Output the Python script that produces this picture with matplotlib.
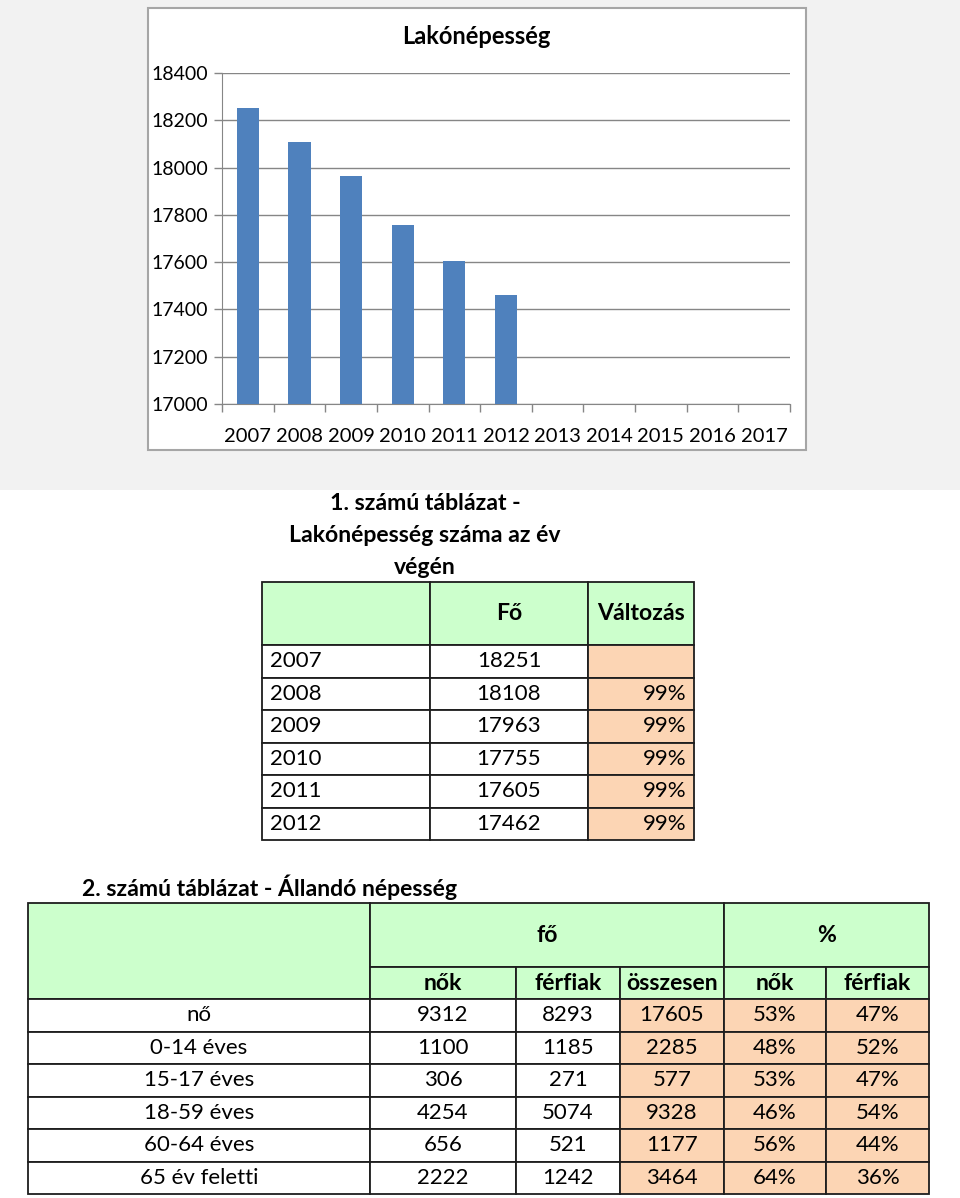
import matplotlib.pyplot as plt
from matplotlib.patches import Rectangle
import numpy as np

plt.rcParams['font.family'] = ['Lato', 'DejaVu Sans']

# Adatok
years = ['2007', '2008', '2009', '2010', '2011', '2012',
         '2013', '2014', '2015', '2016', '2017']
population = [18251, 18108, 17963, 17755, 17605, 17462]

t1_years = ['2007', '2008', '2009', '2010', '2011', '2012']
t1_fo = [18251, 18108, 17963, 17755, 17605, 17462]
t1_change = ['', '99%', '99%', '99%', '99%', '99%']

t2_labels = ['nő', '0-14 éves', '15-17 éves', '18-59 éves', '60-64 éves', '65 év feletti']
t2_nok = [9312, 1100, 306, 4254, 656, 2222]
t2_ferfiak = [8293, 1185, 271, 5074, 521, 1242]
t2_osszesen = [17605, 2285, 577, 9328, 1177, 3464]
t2_nok_pct = [53, 48, 53, 46, 56, 64]
t2_ferfiak_pct = [47, 52, 47, 54, 44, 36]
t2_sub = ['nők', 'férfiak', 'összesen', 'nők', 'férfiak']

W, H = 960, 1198
GREEN = '#ccffcc'
ORANGE = '#fcd5b4'
EDGE = '#1e1e1e'
FS = 16       # normal
FB = 16.6     # bold

fig = plt.figure(figsize=(W / 100, H / 100), dpi=100)

# Hintergrund-Achse in Pixelkoordinaten
bg = fig.add_axes([0, 0, 1, 1])
bg.set_xlim(0, W)
bg.set_ylim(H, 0)
bg.axis('off')
bg.add_patch(Rectangle((0, 0), W, 490, fc='#f2f2f2', ec='none'))
bg.add_patch(Rectangle((148, 8), 658, 442, fc='white', ec='#a6a6a6', lw=1.5))
bg.text(476, 37, 'Lakónépesség', ha='center', va='center', fontsize=17, fontweight='bold')

# Diagramm
ax = fig.add_axes([222 / W, 1 - 404 / H, (790 - 222) / W, (404 - 73) / H])
ax.set_facecolor('white')
ax.bar(range(len(population)), population, width=0.43, color='#4f81bd', zorder=3)
ax.set_xlim(-0.5, len(years) - 0.5)
ax.set_ylim(17000, 18400)
ax.set_yticks(range(17000, 18401, 200))
ax.set_xticks(range(len(years)))
ax.set_xticklabels(years)
ax.set_xticks(np.arange(-0.5, len(years), 1), minor=True)
ax.tick_params(axis='x', which='major', length=0, pad=17, labelsize=14.5)
ax.tick_params(axis='x', which='minor', length=6, color='#868686', width=1)
ax.tick_params(axis='y', length=6, color='#868686', width=1, pad=4, labelsize=14)
ax.yaxis.grid(True, color='#868686', lw=1)
ax.set_axisbelow(True)
for s in ['top', 'right']:
    ax.spines[s].set_visible(False)
for s in ['left', 'bottom']:
    ax.spines[s].set_color('#868686')


def cell(x0, x1, y0, y1, fill='white'):
    bg.add_patch(Rectangle((x0, y0), x1 - x0, y1 - y0, fc=fill, ec=EDGE, lw=1.3))


# 1. táblázat
for i, line in enumerate(['1. számú táblázat -', 'Lakónépesség száma az év', 'végén']):
    bg.text(425, 503 + i * 32, line, ha='center', va='center', fontsize=FB, fontweight='bold')

c1 = [262, 430, 588, 694]
h_top, h_bot, rh = 582, 645, 32.5
for j in range(3):
    cell(c1[j], c1[j + 1], h_top, h_bot, GREEN)
bg.text((c1[1] + c1[2]) / 2, (h_top + h_bot) / 2, 'Fő', ha='center', va='center',
        fontsize=FB, fontweight='bold')
bg.text((c1[2] + c1[3]) / 2, (h_top + h_bot) / 2, 'Változás', ha='center', va='center',
        fontsize=FB, fontweight='bold')
for i, (yr, v, ch) in enumerate(zip(t1_years, t1_fo, t1_change)):
    y0 = h_bot + i * rh
    cell(c1[0], c1[1], y0, y0 + rh)
    cell(c1[1], c1[2], y0, y0 + rh)
    cell(c1[2], c1[3], y0, y0 + rh, ORANGE)
    yc = y0 + rh / 2
    bg.text(c1[0] + 8, yc, yr, ha='left', va='center', fontsize=FS)
    bg.text((c1[1] + c1[2]) / 2, yc, str(v), ha='center', va='center', fontsize=FS)
    bg.text(c1[3] - 7, yc, ch, ha='right', va='center', fontsize=FS)

# 2. táblázat
bg.text(82, 887, '2. számú táblázat - Állandó népesség', ha='left', va='center',
        fontsize=FB, fontweight='bold')
c2 = [28, 370, 516, 620, 724, 826, 929]
t_top, t_mid, t_bot = 903, 967, 999
cell(c2[0], c2[1], t_top, t_bot, GREEN)
cell(c2[1], c2[4], t_top, t_mid, GREEN)
cell(c2[4], c2[6], t_top, t_mid, GREEN)
bg.text((c2[1] + c2[4]) / 2, (t_top + t_mid) / 2, 'fő', ha='center', va='center',
        fontsize=FB, fontweight='bold')
bg.text((c2[4] + c2[6]) / 2, (t_top + t_mid) / 2, '%', ha='center', va='center',
        fontsize=FB, fontweight='bold')
for j, lab in enumerate(t2_sub):
    cell(c2[j + 1], c2[j + 2], t_mid, t_bot, GREEN)
    bg.text((c2[j + 1] + c2[j + 2]) / 2, (t_mid + t_bot) / 2 + 1, lab, ha='center',
            va='center', fontsize=FB, fontweight='bold')

for i in range(len(t2_labels)):
    y0 = t_bot + i * rh
    vals = [t2_labels[i], str(t2_nok[i]), str(t2_ferfiak[i]), str(t2_osszesen[i]),
            f'{t2_nok_pct[i]}%', f'{t2_ferfiak_pct[i]}%']
    for j, v in enumerate(vals):
        cell(c2[j], c2[j + 1], y0, y0 + rh, ORANGE if j >= 3 else 'white')
        bg.text((c2[j] + c2[j + 1]) / 2, y0 + rh / 2, v, ha='center', va='center', fontsize=FS)

fig.savefig('out.png', dpi=100)
